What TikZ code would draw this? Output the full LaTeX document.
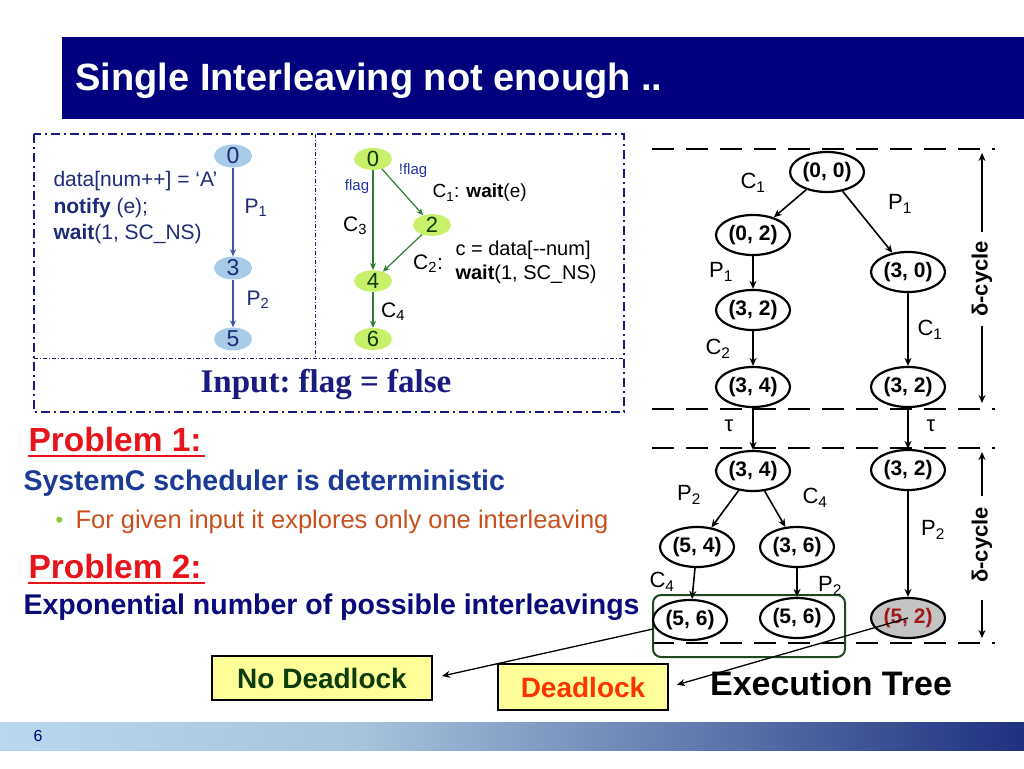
\documentclass[tikz,border=0pt]{standalone}
\usepackage{fontspec}
\setmainfont{Liberation Sans}
\newfontfamily\timesfont{Liberation Serif}
\usepackage{xcolor}
\definecolor{titleblue}{HTML}{00007F}
\definecolor{panelnavy}{HTML}{1A1A80}
\definecolor{codeblue}{HTML}{1F2A78}
\definecolor{stateblue}{HTML}{A8CBE8}
\definecolor{arrowblue}{HTML}{3A5AA5}
\definecolor{stategreen}{HTML}{C8F06A}
\definecolor{arrowgreen}{HTML}{2E7D32}
\definecolor{flagblue}{HTML}{2233A0}
\definecolor{probred}{HTML}{E8141B}
\definecolor{sysblue}{HTML}{1C3A94}
\definecolor{bulletgreen}{HTML}{8DC63F}
\definecolor{bulletorange}{HTML}{C8501C}
\definecolor{expnavy}{HTML}{0A0A7A}
\definecolor{nodlgreen}{HTML}{0B3D0B}
\definecolor{deadred}{HTML}{FF3300}
\definecolor{boxgreen}{HTML}{1F4A1F}
\definecolor{lightyellow}{HTML}{FFFF99}
\definecolor{deadstate}{HTML}{C4C4C4}
\definecolor{deadtext}{HTML}{A01818}
\definecolor{footlight}{HTML}{B8D8F0}
\definecolor{footmid}{HTML}{A6C4DC}
\definecolor{footdark}{HTML}{1E3080}
\usetikzlibrary{positioning, arrows.meta, shapes.geometric, calc}
\newcommand{\fsz}[1]{\fontsize{#1}{#1}\selectfont}

\begin{document}
\begin{tikzpicture}[x=1pt, y=-1pt,
  tstate/.style={ellipse, draw, line width=2.2pt, fill=white, minimum width=74pt,
                 minimum height=40pt, inner sep=0pt, font=\fsz{21}\bfseries},
  tlbl/.style={font=\fsz{22}},
  tflow/.style={-{Stealth[length=8pt,width=7pt]}, line width=1.6pt},
  cutline/.style={line width=2.5pt, dash pattern=on 22pt off 12pt},
  bstate/.style={ellipse, fill=stateblue, minimum width=38pt, minimum height=23pt,
                 inner sep=0pt, font=\fsz{23}, text=codeblue},
  gstate/.style={ellipse, fill=stategreen, minimum width=38pt, minimum height=21pt,
                 inner sep=0pt, font=\fsz{22}, text=nodlgreen},
  bflow/.style={-{Stealth[length=7pt,width=6pt]}, arrowblue, line width=1.2pt},
  gflow/.style={-{Stealth[length=7pt,width=6pt]}, arrowgreen, line width=1.2pt},
  small/.style={font=\fsz{21}},
  result/.style={draw, line width=2.5pt, fill=lightyellow, font=\fsz{28}\bfseries}
]
  \useasboundingbox (0,0) rectangle (1024,768);

  % title bar and footer
  \fill[titleblue] (62,37) rectangle (1024,119);
  \node[anchor=base west, text=white, font=\fsz{38}\bfseries] (title) at (72,90)
        {Single Interleaving not enough ..};
  \shade[left color=footlight, right color=footmid] (0,722) rectangle (360,750);
  \shade[left color=footmid, right color=footdark] (360,722) rectangle (1024,750);
  \node[text=titleblue, font=\fsz{16}] (pagenum) at (38,736) {6};

  % input panel
  \draw[panelnavy, line width=2pt, dash pattern=on 9pt off 4pt on 2pt off 4pt]
        (34,134) rectangle (624,412);
  \draw[panelnavy, line width=0.8pt, dash pattern=on 4pt off 2pt on 1pt off 2pt]
        (315,134) -- (315,358) (34,358) -- (624,358);

  % producer
  \node[bstate] (p0) at (233,156) {0};
  \node[bstate] (p3) at (233,268) {3};
  \node[bstate] (p5) at (233,339) {5};
  \draw[bflow] (p0) -- (p3);
  \draw[bflow] (p3) -- (p5);
  \node[small, text=codeblue] at (256,208) {P\textsubscript{1}};
  \node[small, text=codeblue] at (258,300) {P\textsubscript{2}};
  \node[anchor=north west, align=left, text=codeblue, font=\fontsize{21}{26.5}\selectfont]
        (pcode) at (50,168) {data[num++] = ‘A’\\\textbf{notify} (e);\\\textbf{wait}(1, SC\_NS)};

  % consumer
  \node[gstate] (c0) at (373,159) {0};
  \node[gstate] (c2) at (432,225) {2};
  \node[gstate] (c4) at (373,281) {4};
  \node[gstate] (c6) at (373,339) {6};
  \draw[gflow] (c0) -- (c4);
  \draw[gflow] (c0) -- (c2);
  \draw[gflow] (c2) -- (c4);
  \draw[gflow] (c4) -- (c6);
  \node[text=flagblue, font=\fsz{15}] at (413,171) {!flag};
  \node[text=flagblue, font=\fsz{15}] at (357,187) {flag};
  \node[small, anchor=west, font=\fsz{19}] at (429,193) {C\textsubscript{1}: \textbf{wait}(e)};
  \node[small] at (355,226) {C\textsubscript{3}};
  \node[small] at (428,264) {C\textsubscript{2}:};
  \node[anchor=north west, align=left, font=\fontsize{20}{24}\selectfont]
        (ccode) at (452,237) {c = data[-{}-num]\\\textbf{wait}(1, SC\_NS)};
  \node[small] at (393,312) {C\textsubscript{4}};

  \node[text=panelnavy, font=\timesfont\bfseries\fsz{33}\frenchspacing] (input) at (326,385)
        {Input: flag = false};

  % problems
  \node[anchor=base west, text=probred, font=\fsz{33.5}\bfseries] (prob1) at (25,451) {Problem 1:};
  \draw[probred, line width=2.5pt] ($(prob1.base west)+(3,5)$) -- ($(prob1.base east)+(0,5)$);
  \node[anchor=base west, text=sysblue, font=\fsz{28.5}\bfseries] (sched) at (20,490)
        {SystemC scheduler is deterministic};
  \node[anchor=base west, text=bulletgreen, font=\fsz{22}] (bul) at (52,527) {•};
  \node[anchor=base west, text=bulletorange, font=\fsz{25.5}] (explore) at (72,528)
        {For given input it explores only one interleaving};
  \node[anchor=base west, text=probred, font=\fsz{33.5}\bfseries] (prob2) at (25,578) {Problem 2:};
  \draw[probred, line width=2.5pt] ($(prob2.base west)+(3,5)$) -- ($(prob2.base east)+(0,5)$);
  \node[anchor=base west, text=expnavy, font=\fsz{28.5}\bfseries] (expo) at (20,614)
        {Exponential number of possible interleavings};

  % execution tree
  \draw[cutline] (652,149) -- (995,149);
  \draw[cutline] (652,409) -- (995,409);
  \draw[cutline] (652,448) -- (995,448);
  \draw[cutline] (652,643) -- (995,643);

  \node[tstate] (s00)  at (827,172) {(0, 0)};
  \node[tstate] (s02)  at (753,235) {(0, 2)};
  \node[tstate] (s30)  at (908,272) {(3, 0)};
  \node[tstate] (s32a) at (753,310) {(3, 2)};
  \node[tstate] (s34a) at (753,387) {(3, 4)};
  \node[tstate] (s32b) at (908,387) {(3, 2)};
  \node[tstate] (s34b) at (753,471) {(3, 4)};
  \node[tstate] (s32c) at (908,470) {(3, 2)};
  \node[tstate] (s54)  at (697,547) {(5, 4)};
  \node[tstate] (s36)  at (797,547) {(3, 6)};

  \draw[boxgreen, line width=2pt, rounded corners=8pt] (653,595) rectangle (845,657);
  \node[tstate] (s56a) at (690,620) {(5, 6)};
  \node[tstate] (s56b) at (797,618) {(5, 6)};
  \node[tstate, fill=deadstate, text=deadtext] (s52) at (908,618) {(5, 2)};
  \coordinate (okbox) at (653,629);

  \draw[tflow] (s00) -- (s02);
  \draw[tflow] (s00) -- (s30);
  \draw[tflow] (s02) -- (s32a);
  \draw[tflow] (s32a) -- (s34a);
  \draw[tflow] (s30) -- (s32b);
  \draw[tflow] (s34a) -- (s34b);
  \draw[tflow] (s32b) -- (s32c);
  \draw[tflow] (s34b) -- (s54);
  \draw[tflow] (s34b) -- (s36);
  \draw[tflow] (s54) -- (s56a);
  \draw[tflow] (s36) -- (s56b);
  \draw[tflow] (s32c) -- (s52);

  \node[tlbl] at (753,183) {C\textsubscript{1}};
  \node[tlbl] at (900,204) {P\textsubscript{1}};
  \node[tlbl] at (721,272) {P\textsubscript{1}};
  \node[tlbl] at (930,330) {C\textsubscript{1}};
  \node[tlbl] at (718,349) {C\textsubscript{2}};
  \node[tlbl] at (729,426) {τ};
  \node[tlbl] at (931,426) {τ};
  \node[tlbl] at (689,495) {P\textsubscript{2}};
  \node[tlbl] at (815,498) {C\textsubscript{4}};
  \node[tlbl] at (933,530) {P\textsubscript{2}};
  \node[tlbl] at (662,582) {C\textsubscript{4}};
  \node[tlbl] at (830,586) {P\textsubscript{2}};

  % delta cycles
  \node[rotate=90, font=\fsz{22}\bfseries] (dc1) at (982,279) {δ-cycle};
  \draw[tflow, shorten <=6pt] (dc1.east) -- (982,153);
  \draw[tflow, shorten <=6pt] (dc1.west) -- (982,403);
  \node[rotate=90, font=\fsz{22}\bfseries] (dc2) at (982,545) {δ-cycle};
  \draw[tflow, shorten <=8pt] (dc2.east) -- (982,452);
  \draw[tflow, shorten <=14pt] (dc2.west) -- (982,638);

  % results
  \node[result, text=nodlgreen, minimum width=220pt, minimum height=44pt] (nodl) at (322,678) {No Deadlock};
  \node[result, text=deadred, minimum width=170pt, minimum height=46pt] (dead) at (583,687) {Deadlock};
  \draw[tflow, line width=1.3pt, shorten >=9pt] (okbox) -- (nodl.east);
  \draw[tflow, line width=1.3pt, shorten >=8pt] (s52.center) -- (dead.east);
  \node[font=\fsz{34}\bfseries] (etree) at (831,683) {Execution Tree};
\end{tikzpicture}
\end{document}
